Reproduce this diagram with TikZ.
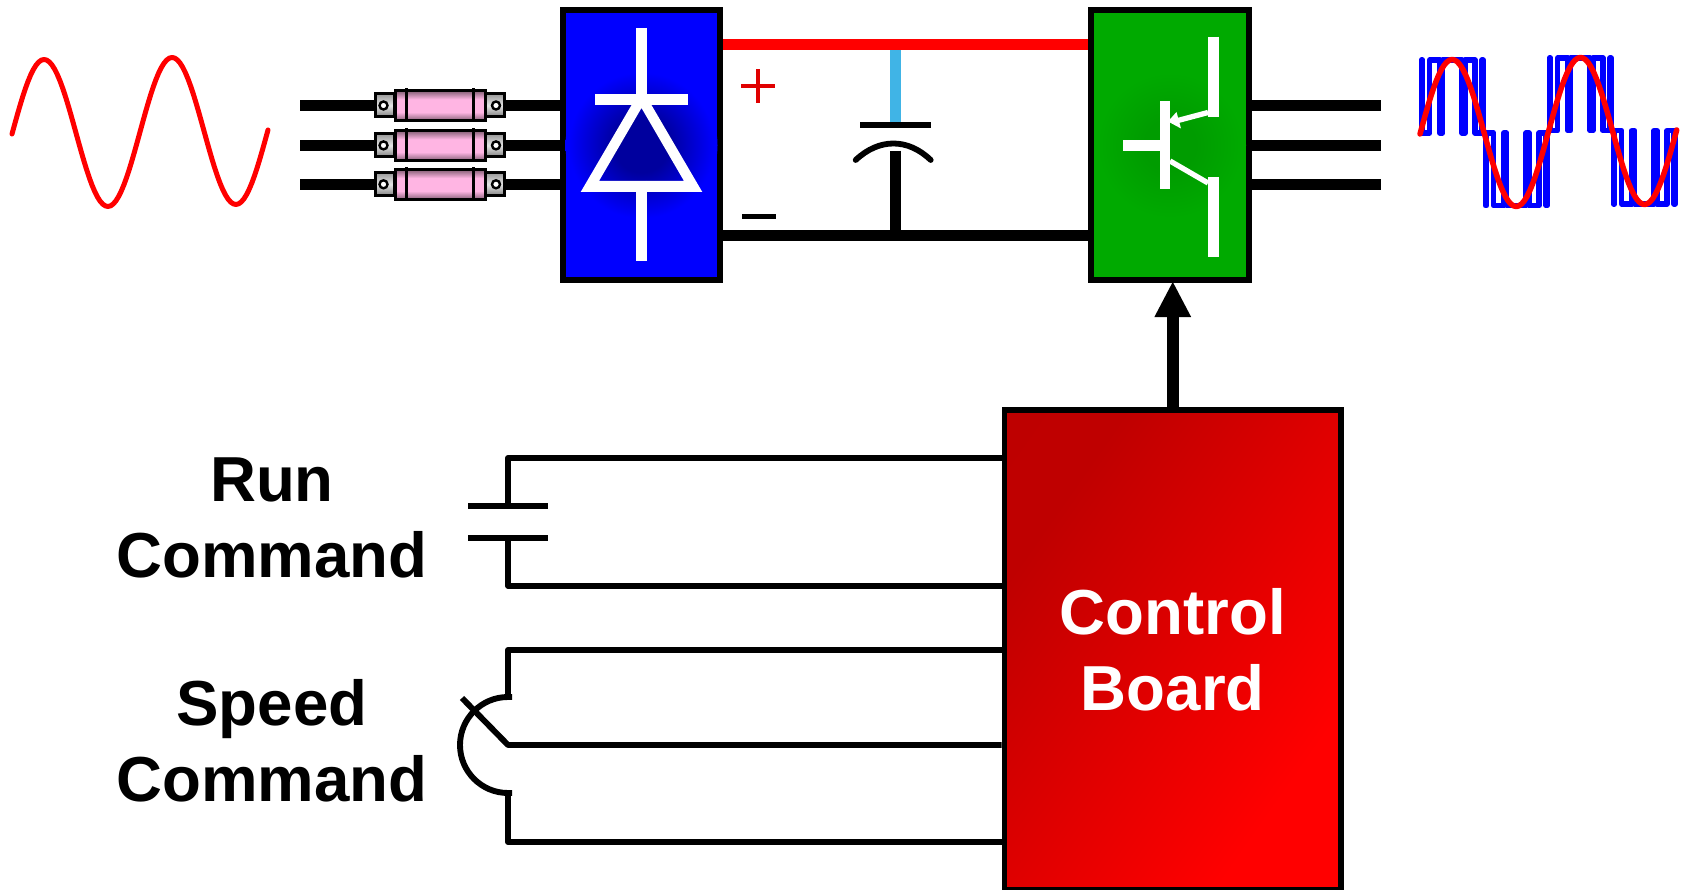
\documentclass[tikz,border=0pt]{standalone}
\usepackage{fontspec}
\setmainfont{Liberation Sans}
\usetikzlibrary{arrows.meta}
\definecolor{rectblue}{RGB}{0,0,255}
\definecolor{invgreen}{RGB}{0,170,0}
\definecolor{capcyan}{RGB}{64,180,230}
\definecolor{plusred}{RGB}{224,0,0}
\pgfdeclareradialshading{bluecore}{\pgfpoint{0bp}{0bp}}{rgb(0bp)=(0,0,.62);rgb(9bp)=(0,0,.62);rgb(24bp)=(0,0,1);rgb(50bp)=(0,0,1)}
\pgfdeclareradialshading{greencore}{\pgfpoint{0bp}{0bp}}{rgb(0bp)=(0,.61,0);rgb(8bp)=(0,.61,0);rgb(24bp)=(0,.667,0);rgb(50bp)=(0,.667,0)}
\pgfdeclarehorizontalshading{redramp}{100bp}{rgb(0bp)=(.74,0,0);rgb(28bp)=(.75,0,0);rgb(72bp)=(1,0,0);rgb(100bp)=(1,0,0)}
\pgfdeclareverticalshading{pinkbar}{100bp}{rgb(0bp)=(.53,.38,.47);rgb(25bp)=(.53,.38,.47);rgb(39bp)=(1,.71,.89);rgb(61bp)=(1,.71,.89);rgb(75bp)=(.53,.38,.47);rgb(100bp)=(.53,.38,.47)}
\pgfdeclareverticalshading{lugbar}{100bp}{rgb(0bp)=(.5,.5,.5);rgb(25bp)=(.5,.5,.5);rgb(50bp)=(.9,.9,.9);rgb(75bp)=(.6,.6,.6);rgb(100bp)=(.6,.6,.6)}
\tikzset{
  blockbox/.style={draw=black,line width=5.8,inner sep=0pt},
  heavy/.style={line width=11,black},
  wire/.style={line width=5.9,line join=round,black},
  glyph/.style={line width=10.7,white},
  biglabel/.style={font=\fontsize{63.6}{76.5}\selectfont\bfseries,align=center,inner sep=0pt},
  pwm/.style={line width=5.6,line join=round,line cap=round,blue},
  sinewave/.style={red,line join=round,line cap=round},
  fusebody/.style={draw=black,line width=3,shading=pinkbar},
  fuselug/.style={draw=black,line width=3,shading=lugbar},
  fusehole/.style={draw=black,line width=2.4,fill=white}
}
% one fuse, centred on the height #1
\newcommand{\fuseat}[1]{%
  \path[fuselug] (375,#1-11.5) rectangle (394,#1+11.5);
  \path[fuselug] (485,#1-11.5) rectangle (504,#1+11.5);
  \path[fusebody] (395,#1-14.5) rectangle (485,#1+15);
  \draw[line width=3] (406,#1-17) -- (406,#1+17) (473,#1-17) -- (473,#1+17);
  \path[fusehole] (383.5,#1) circle (4);
  \path[fusehole] (496,#1) circle (4);
}
% one half wave of the chopped output: centre, near rail, far rail
\newcommand{\pwmhalf}[3]{%
  \draw[pwm] (#1-30.8,#3) -- (#1-30.8,#2) -- (#1-29.8,#2) -- (#1-29.8,#3) -- (#1-22.7,#3)
    -- (#1-22.7,#2) -- (#1-12.5,#2) -- (#1-12.5,#3) -- (#1-9.8,#3) -- (#1-9.8,#2)
    -- (#1+9.8,#2) -- (#1+9.8,#3) -- (#1+12.5,#3) -- (#1+12.5,#2) -- (#1+22.7,#2)
    -- (#1+22.7,#3) -- (#1+29.8,#3) -- (#1+29.8,#2) -- (#1+30.8,#2) -- (#1+30.8,#3);
}
\begin{document}
\begin{tikzpicture}[x=1pt,y=-1pt]
\clip (0,0) rectangle (1681,890);

% free ends and heights
\coordinate (busplus) at (800,44.5);
\coordinate (busminus) at (800,235.7);
\coordinate (capx) at (895.3,150);
\coordinate (capplate) at (895.3,125);
\coordinate (capstem) at (895.3,150.7);
\coordinate (la) at (300,105.2);
\coordinate (lb) at (300,145.6);
\coordinate (lc) at (300,184.3);
\coordinate (ra) at (1381,105.2);
\coordinate (rb) at (1381,145.6);
\coordinate (rc) at (1381,184.3);

% blocks
\node[blockbox,fill=rectblue,minimum width=157.6,minimum height=270] (rect) at (641.5,145.2) {};
\node[blockbox,fill=invgreen,minimum width=158.6,minimum height=270] (inv) at (1170,145.2) {};
\node[blockbox,shading=redramp,shading angle=-35,minimum width=336.5,minimum height=479.5,
      biglabel,text=white] (ctrl) at (1172.75,649.75) {Control\\Board};
\shade[shading=bluecore] (rect.center) circle (76);
\shade[shading=greencore] (inv.center) circle (76);

% input sine
\draw[sinewave,line width=5] plot[domain=0:720,samples=97]
  ({12+\x*0.35556},{134-\x*0.0056-74*sin(\x)});

% three phase lines in and out
\draw[heavy] (la) -- (rect.west |- la);
\draw[heavy] (lb) -- (rect.west |- lb);
\draw[heavy] (lc) -- (rect.west |- lc);
\draw[heavy] (inv.east |- ra) -- (ra);
\draw[heavy] (inv.east |- rb) -- (rb);
\draw[heavy] (inv.east |- rc) -- (rc);
\fuseat{105.5}
\fuseat{145.4}
\fuseat{184.3}

% dc bus
\draw[line width=10.7,capcyan] (capx |- busplus) -- (capplate);
\draw[line width=11,red] (rect.east |- busplus) -- (inv.west |- busplus);
\draw[heavy] (rect.east |- busminus) -- (inv.west |- busminus);
\draw[line width=10.7,black] (capstem) -- (capx |- busminus);
\draw[line width=5.6] (860,125) -- (930.7,125);
\draw[line width=5.8,line cap=round] (855.7,160) .. controls (879,138) and (908,138) .. (930.7,160);
\draw[line width=4.2,plusred] (741,86.3) -- (775,86.3) (758,69.5) -- (758,103.5);
\draw[line width=5,black] (742,216.3) -- (776,216.3);

% diode
\draw[glyph] (641.5,28) -- (641.5,99.5);
\draw[glyph] (595,99.5) -- (688,99.5);
\fill[white,even odd rule] (580.7,192) -- (641.5,88) -- (702.3,192) -- cycle
   (599,181) -- (684,181) -- (641.5,108) -- cycle;
\draw[glyph] (641.5,181) -- (641.5,261);

% transistor
\draw[glyph] (1165,101) -- (1165,188.7);
\draw[glyph] (1123,145.3) -- (1165,145.3);
\draw[glyph] (1213.3,36.7) -- (1213.3,116.7);
\draw[glyph] (1213.3,177) -- (1213.3,256.7);
\draw[line width=5.3,white] (1208,112.5) -- (1176,121);
\fill[white] (1168,121.5) -- (1176.5,112) -- (1181,128.5) -- cycle;
\draw[line width=5.3,white] (1170,161) -- (1208,183);

% output wave
\pwmhalf{1452.3}{60}{133}
\pwmhalf{1516.3}{205.7}{133}
\pwmhalf{1580.3}{58}{130.7}
\pwmhalf{1644.3}{204}{130.7}
\draw[sinewave,line width=5.5] plot[domain=0:720,samples=97]
  ({1420+\x*0.35653},{134-\x*0.0056-74*sin(\x)});

% gate drive arrow
\draw[line width=12,-{Triangle[length=36,width=34]},shorten >=-2pt] (ctrl.north) -- (ctrl.north |- inv.south);

% run command
\coordinate (runtop) at (508,458);
\coordinate (runbot) at (508,585.7);
\draw[wire] (ctrl.west |- runtop) -- (runtop) -- (508,505.7);
\draw[wire] (ctrl.west |- runbot) -- (runbot) -- (508,537.7);
\draw[line width=5.8] (468,505.7) -- (548,505.7);
\draw[line width=5.8] (468,537.7) -- (548,537.7);

% speed command
\coordinate (spdtop) at (508,650);
\coordinate (spdmid) at (508,745);
\coordinate (spdbot) at (508,842);
\draw[wire] (ctrl.west |- spdtop) -- (spdtop) -- (508,697);
\draw[wire] (ctrl.west |- spdmid) -- (spdmid) -- (462,698);
\draw[wire] (ctrl.west |- spdbot) -- (spdbot) -- (508,793);
\draw[wire] (512,697) -- (508,697) arc[start angle=-90,end angle=-270,radius=48] -- (512,793);

% labels
\node[biglabel] (runlabel) at (272,518) {Run\\Command};
\node[biglabel] (speedlabel) at (272,741) {Speed\\Command};
\end{tikzpicture}
\end{document}
